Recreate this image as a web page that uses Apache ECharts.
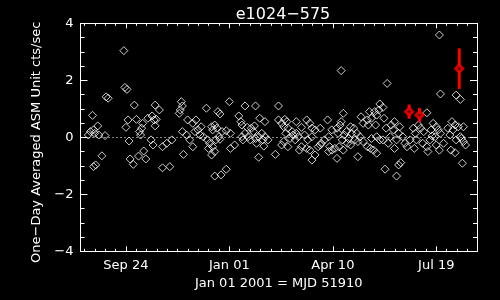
<!DOCTYPE html>
<html><head><meta charset="utf-8">
<script src="https://cdn.jsdelivr.net/npm/echarts@6/dist/echarts.min.js"></script>
<style>html,body{margin:0;padding:0;background:#000;}#c{width:500px;height:300px;}</style>
</head><body><div id="c"></div>
<script>
// Days relative to Jan 01 2001 (MJD 51910)
const days = [-101,-100,-98,-118,-116,-131,-91,-71,-67,-46,-45,-47,-48,-22,-126,-130,-133,-129,-125,-119,-135,-97,-99,-89,-83,-78,-74,-72,-70,-71,-84,-86,-85,-96,-75,-73,-64,-60,-55,-82,-87,-80,-95,-92,-122,-130,-128,-64,-57,-44,-45,-41,-40,-35,-32,-30,-33,-28,-25,-21,-19,-20,-35,-38,-17,-16,-27,-14,
107,0,15,25,47,-11,-9,9,11,12,-14,-12,-7,-3,1,-10,-13,-9,-16,-14,-17,1,5,28,44,29,34,17,21,24,23,15,18,20,25,28,31,32,34,37,26,33,12,13,
47,50,53,55,52,56,60,54,61,58,64,66,63,52,50,56,64,74,77,69,79,82,87,72,75,79,69,74,77,67,82,79,94,107,109,106,103,98,104,110,95,91,88,96,98,101,105,109,85,87,95,103,108,-8,-3,
201,151,202,217,221,126,144,147,143,139,134,141,148,136,132,128,133,140,116,119,112,117,122,125,114,120,123,113,116,128,136,141,144,132,138,135,141,
189,158,155,150,157,163,162,166,154,147,152,160,168,170,158,173,178,176,181,183,186,179,185,189,190,177,195,198,193,200,202,197,192,198,201,205,194,
213,216,209,214,219,224,211,217,221,224,226,212,216,222,123,149,162,164,160,223];
const rates = [3.04,1.75,1.68,1.42,1.37,0.77,1.13,1.13,0.96,1.25,1.10,0.96,0.84,1.02,0.40,0.26,0.20,0.14,0.08,0.06,0.08,0.61,0.35,0.63,0.49,0.67,0.75,0.61,0.63,0.40,0.32,0.20,0.08,-0.13,-0.09,-0.27,-0.33,-0.21,-0.09,-0.48,-0.66,-0.76,-0.76,-0.95,-0.65,-1.03,-0.97,-1.07,-1.03,-0.60,0.20,0.08,0.61,0.49,0.61,0.26,0.20,0.08,0.02,-0.09,-0.21,-0.39,-0.33,-0.09,0.37,0.26,0.37,-1.36,
2.34,1.25,1.10,1.10,1.10,0.90,0.82,0.75,0.55,0.43,0.43,0.32,0.20,0.23,0.14,0.02,-0.09,-0.07,-0.33,-0.50,-0.62,-0.39,-0.27,-0.70,-0.60,0.67,0.55,0.35,0.32,0.40,0.20,0.14,0.02,-0.09,-0.04,0.02,0.14,-0.09,0.02,-0.09,-0.21,-0.31,0.02,-0.09,
0.61,0.49,0.63,0.55,0.37,0.32,0.20,0.14,0.08,-0.04,0.14,0.02,-0.09,-0.15,-0.27,-0.33,0.55,0.61,0.49,0.35,0.32,0.26,0.32,0.08,-0.09,0.02,-0.33,-0.39,-0.45,-0.45,-0.62,-0.80,0.61,0.55,0.84,0.43,0.32,0.26,0.14,0.08,0.02,-0.09,-0.21,-0.33,-0.45,-0.39,-0.33,-0.45,-0.33,-0.27,-0.50,-0.74,-0.09,-1.32,-1.12,
3.59,1.89,1.52,1.48,1.33,0.72,1.17,1.05,0.96,0.90,0.90,0.78,0.67,0.67,0.61,0.49,0.43,0.43,0.37,0.32,0.20,0.14,0.14,0.02,-0.04,-0.09,-0.15,-0.21,-0.27,-0.15,-0.04,0.02,-0.09,-0.33,-0.45,-0.39,-0.56,
0.86,0.55,0.43,0.32,0.26,0.37,0.14,0.02,0.02,-0.09,-0.21,-0.09,-0.21,-0.33,-0.39,-0.09,0.14,0.32,0.43,0.32,0.20,-0.09,-0.21,-0.33,-0.50,-0.39,0.49,0.37,0.26,0.26,0.14,0.02,-0.09,-0.27,-0.45,-0.21,0.05,
0.55,0.43,0.32,0.26,0.37,0.37,0.08,-0.09,0.02,-0.15,-0.27,-0.45,-0.54,-0.04,-0.68,-1.12,-0.97,-0.89,-1.36,-0.91];

const redDays = [172, 182, 220];
const redRates = [0.90, 0.78, 2.41];
const redErrs = [0.25, 0.25, 0.71];

const majorTickDays = [-99, 0, 99, 198];
const majorTickLabels = ['Sep 24', 'Jan 01', 'Apr 10', 'Jul 19'];
const minorPerMajor = 10;
const xMin = -142.5, xMax = 237;

const titleText = 'e1024\u2212575';
const xTitle = 'Jan 01 2001 = MJD 51910';
const yTitle = 'One\u2212Day Averaged ASM Unit cts/sec';

const step = (majorTickDays[1] - majorTickDays[0]) / minorPerMajor;
const minorTicks = [];
for (let k = -20; k <= 60; k++) {
  const v = majorTickDays[0] + k * step;
  if (v > xMin && v < xMax && k % minorPerMajor !== 0) minorTicks.push(+v.toFixed(2));
}

const white = '#ffffff';
const font = 'DejaVu Sans';
function xAx(pos, ticks, len, labels, name) {
  return {
    type: 'value', position: pos, min: xMin, max: xMax,
    axisLine: { show: true, onZero: false, lineStyle: { color: white, width: 1 } },
    axisTick: { show: true, inside: true, length: len, customValues: ticks, lineStyle: { color: white } },
    axisLabel: labels ? {
      show: true, customValues: majorTickDays, color: white, fontFamily: font, fontSize: 13, margin: 8,
      formatter: v => { const i = majorTickDays.indexOf(Math.round(v)); return i >= 0 ? majorTickLabels[i] : ''; }
    } : { show: false },
    splitLine: { show: false },
    name: name || '', nameLocation: 'middle', nameGap: 23,
    nameTextStyle: { color: white, fontFamily: font, fontSize: 13 }
  };
}
function yAx(pos, labels, name) {
  return {
    type: 'value', position: pos, min: -4, max: 4, interval: 2,
    axisLine: { show: true, onZero: false, lineStyle: { color: white, width: 1 } },
    axisTick: { show: true, inside: true, length: 7, lineStyle: { color: white } },
    minorTick: { show: true, splitNumber: 4, length: 4, lineStyle: { color: white } },
    axisLabel: labels ? { show: true, color: white, fontFamily: font, fontSize: 13, margin: 7,
      formatter: v => String(v).replace('-', '\u2212') } : { show: false },
    splitLine: { show: false }, minorSplitLine: { show: false },
    name: name || '', nameLocation: 'middle', nameGap: 32, nameRotate: 90,
    nameTextStyle: { color: white, fontFamily: font, fontSize: 13, padding: [0, 10, 0, 0] }
  };
}

const chart = echarts.init(document.getElementById('c'), null, { renderer: 'canvas' });
chart.setOption({
  backgroundColor: '#000000',
  animation: false,
  title: { text: titleText, left: 278, top: 2, textAlign: 'center',
    textStyle: { color: white, fontFamily: font, fontSize: 16, fontWeight: 'normal' } },
  grid: { left: 80.5, top: 23.3, width: 396.5, height: 228, containLabel: false },
  xAxis: [
    xAx('bottom', majorTickDays, 5, true, xTitle),
    xAx('bottom', minorTicks, 2.5, false),
    xAx('top', majorTickDays, 5, false),
    xAx('top', minorTicks, 2.5, false)
  ],
  yAxis: [ yAx('left', true, yTitle), yAx('right', false) ],
  series: [
    {
      type: 'scatter', xAxisIndex: 0, yAxisIndex: 0, symbol: 'diamond', symbolSize: 8,
      itemStyle: { color: 'rgba(0,0,0,0)', borderColor: white, borderWidth: 1 },
      data: days.map((d, i) => [d, rates[i]]),
      markLine: { silent: true, symbol: 'none', label: { show: false },
        lineStyle: { color: white, type: [1, 3], width: 1 },
        data: [{ yAxis: 0 }] },
      z: 2
    },
    {
      type: 'custom', xAxisIndex: 0, yAxisIndex: 0, z: 3,
      data: redDays.map((d, i) => [d, redRates[i] - redErrs[i], redRates[i] + redErrs[i]]),
      renderItem: (params, api) => {
        const lo = api.coord([api.value(0), api.value(1)]);
        const hi = api.coord([api.value(0), api.value(2)]);
        return { type: 'line', shape: { x1: lo[0], y1: lo[1], x2: hi[0], y2: hi[1] },
          style: { stroke: '#ff0000', lineWidth: 3 } };
      }
    },
    {
      type: 'scatter', xAxisIndex: 0, yAxisIndex: 0, symbol: 'diamond', symbolSize: 7, z: 4,
      itemStyle: { color: '#000000', borderColor: '#ff0000', borderWidth: 3 },
      data: redDays.map((d, i) => [d, redRates[i]])
    }
  ]
});
</script></body></html>
